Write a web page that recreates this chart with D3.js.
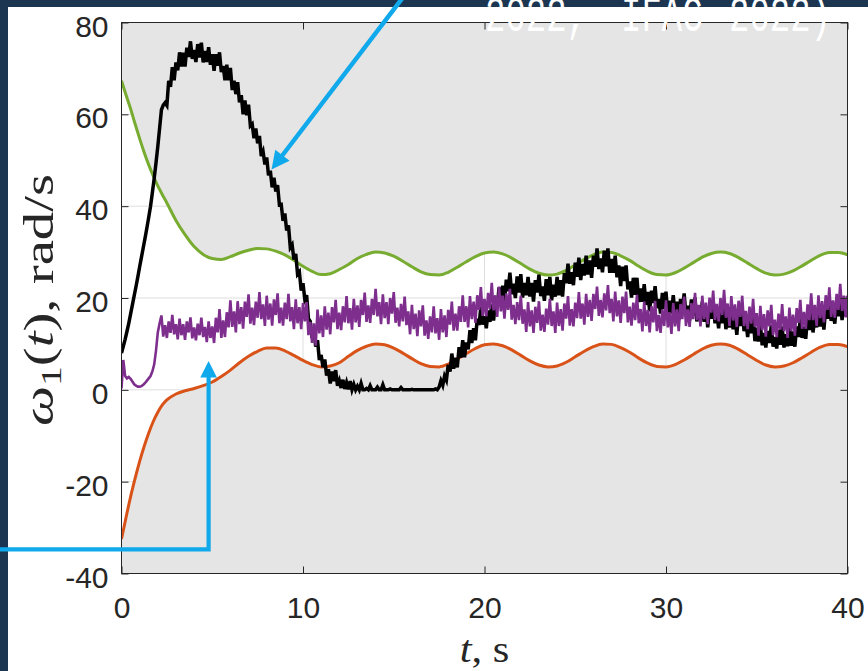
<!DOCTYPE html>
<html>
<head>
<meta charset="utf-8">
<script src="https://cdn.jsdelivr.net/npm/d3@7"></script>
<style>
  html, body { margin: 0; padding: 0; background: #1c3652; }
  svg { display: block; }
</style>
</head>
<body>
<svg id="chart" width="868" height="671"></svg>
<script>
// ---- data -------------------------------------------------------------
// time stamps of the bound curves (s)
const boundT = [0, 0.25, 0.5, 0.75, 1, 1.25, 1.5, 1.75, 2, 2.25, 2.5,
  3, 3.5, 4, 4.5, 5, 5.5, 6, 6.5, 7, 7.5, 8, 8.5, 9, 9.5, 10, 10.5, 11, 11.5, 12,
  12.5, 13, 13.5, 14, 14.5, 15, 15.5, 16, 16.5, 17, 17.5, 18, 18.5, 19, 19.5, 20,
  20.5, 21, 21.5, 22, 22.5, 23, 23.5, 24, 24.5, 25, 25.5, 26, 26.5, 27, 27.5, 28,
  28.5, 29, 29.5, 30, 30.5, 31, 31.5, 32, 32.5, 33, 33.5, 34, 34.5, 35, 35.5, 36,
  36.5, 37, 37.5, 38, 38.5, 39, 39.5, 40];

// upper bound (green)
const upperBound = [67.3, 64.2, 61.2, 57.9, 54.7, 51.7, 49.0, 46.6, 44.4, 42.5, 40.7,
  36.9, 33.8, 31.2, 29.5, 28.6, 28.4, 29.0, 29.8, 30.4, 30.8, 30.7, 30.2, 29.4, 28.2, 26.9, 25.8, 25.1, 25.3, 26.2,
  27.3, 28.6, 29.5, 30.0, 29.8, 29.1, 28.0, 26.8, 25.7, 25.1, 25.0, 25.6, 26.7, 27.9, 29.0, 29.8,
  30.0, 29.6, 28.7, 27.5, 26.3, 25.4, 25.0, 25.2, 26.0, 27.2, 28.4, 29.4, 30.0, 29.9, 29.2, 28.2,
  26.9, 25.8, 25.1, 25.0, 25.5, 26.5, 27.7, 28.9, 29.7, 30.0, 29.7, 28.8, 27.6, 26.4, 25.4, 25.0,
  25.2, 25.9, 27.0, 28.2, 29.3, 29.9, 29.9, 29.4];

// lower bound (orange)
const lowerBound = [-32.5, -27.8, -23.3, -19.3, -15.6, -12.3, -9.4, -6.9, -4.9, -3.3, -2.2,
  -0.9, -0.2, 0.3, 0.9, 1.7, 2.9, 4.3, 5.9, 7.3, 8.4, 9.1, 9.1, 8.5, 7.5, 6.4, 5.5, 5.0, 5.2, 5.9,
  7.3, 8.6, 9.5, 10.0, 9.8, 9.1, 8.0, 6.8, 5.7, 5.1, 5.0, 5.6, 6.7, 7.9, 9.0, 9.8,
  10.0, 9.6, 8.7, 7.5, 6.3, 5.4, 5.0, 5.2, 6.0, 7.2, 8.4, 9.4, 10.0, 9.9, 9.2, 8.2,
  6.9, 5.8, 5.1, 5.0, 5.5, 6.5, 7.7, 8.9, 9.7, 10.0, 9.7, 8.8, 7.6, 6.4, 5.4, 5.0,
  5.2, 5.9, 7.0, 8.2, 9.3, 9.9, 9.9, 9.4];

// sampled responses, one value every sampleStep seconds from t = 0
const sampleStep = 0.1;

const responseBlack = [
  8.0, 9.5, 11.0, 12.7, 14.5, 16.5, 18.5, 20.5, 22.5, 24.6, 26.8, 28.9, 31.0, 33.1, 35.3, 37.6, 40.0,
  42.9, 46.0, 49.4, 53.0, 57.0, 61.0, 62.0, 62.5,
  61.9, 67.3, 66.0, 70.3, 67.4, 71.3, 69.6, 73.5, 70.4, 73.4, 70.4, 74.5, 72.5, 75.9, 72.1, 74.0,
  71.4, 75.3, 72.4, 75.6, 71.3, 73.8, 71.4, 74.6, 70.8, 73.1, 69.5, 73.1, 70.6, 73.5, 69.2, 70.5,
  67.4, 70.8, 67.4, 70.1, 65.3, 67.3, 64.4, 67.0, 62.6, 64.2, 60.0, 63.0, 59.8, 62.1,
  57.5, 57.9, 54.8, 56.9, 53.7, 55.3, 50.9, 51.9, 49.1, 50.6, 46.7, 47.7, 44.1, 46.2, 43.2, 44.6,
  40.3, 40.4, 36.8, 38.4, 34.7, 35.8, 31.0, 31.6, 28.4, 29.6, 25.2, 25.7, 21.6, 23.2, 19.7, 20.6,
  15.5, 14.9, 11.3, 12.9, 9.4, 10.8, 6.5, 7.6, 4.9, 6.6, 3.1, 4.5, 1.4, 4.0, 1.9, 4.3, 0.9, 2.0,
  0.4, 2.2, 0.2, 1.6, 0.1, 1.9, 0.0, 1.2, 0.0, 0.8, 0.0, 1.4, 0.0, 0.0, 0.3, 0.0, 0.9, 0.0, 0.0, 0.0,
  0.6, 0.0, 0.0, 1.1, 0.0, 0.0, 0.0, 0.2, 0.0, 0.0, 0.0, 0.0, 0.0, 0.5, 0.0, 0.0, 0.0, 0.0, 0.0, 0.1,
  0.0, 0.0, 0.0, 0.0, 0.0, 0.0, 0.0, 0.0, 0.0, 0.0, 0.0, 0.0, 0.2, 0.0, 0.6,
  2.0, 1.0, 3.0, 2.1, 5.5, 4.0, 7.9, 4.6, 7.0, 4.9, 9.3, 7.0, 10.8, 7.1, 10.3, 8.8, 13.0, 10.2,
  13.4, 10.8, 15.5, 14.1, 18.1, 14.2, 16.0, 13.4, 17.3, 14.8, 18.6, 15.1, 18.8, 17.8, 22.3, 19.6, 22.7,
  19.1, 24.0, 21.5, 25.5, 20.8, 23.1, 20.0, 24.7, 21.2, 25.2,
  20.1, 23.3, 20.6, 24.6, 20.3, 23.3, 19.2, 23.9, 21.2, 25.1,
  20.4, 22.5, 19.4, 24.1, 20.6, 24.6, 19.5, 22.9, 20.3, 24.6,
  20.6, 23.9, 20.3, 25.4, 23.2, 27.5, 23.1, 25.6, 22.8, 27.7,
  24.6, 28.8, 23.9, 27.4, 24.9, 29.2, 25.1, 28.2, 24.4, 29.2,
  26.8, 30.8, 26.3, 28.6, 25.6, 30.3, 26.9, 30.8, 25.5, 28.5,
  25.5, 29.2, 24.5, 27.1, 22.6, 26.8, 23.7, 27.1, 21.9, 23.6,
  20.1, 24.4, 20.7, 24.4, 19.1, 22.1, 19.2, 23.0, 18.5, 21.3,
  17.1, 21.6, 18.9, 22.6, 17.8, 19.8, 16.6, 21.1, 17.6, 21.4,
  16.2, 19.4, 16.6, 20.6, 16.3, 19.2, 15.2, 19.8, 17.2, 21.0,
  16.2, 18.3, 15.1, 19.7, 16.2, 20.1, 14.9, 18.0, 15.2, 19.2,
  14.8, 17.7, 13.6, 18.2, 15.5, 19.3, 14.5, 16.6, 13.4, 18.0,
  14.5, 18.4, 13.2, 16.4, 13.6, 17.6, 13.2, 16.1, 12.0, 16.6,
  13.9, 17.6, 12.8, 14.8, 11.5, 16.0, 12.3, 16.0, 10.6, 13.5,
  10.5, 14.2, 9.7, 12.4, 9.2, 12.8, 10.2, 14.1, 9.4, 11.5,
  9.0, 13.1, 9.8, 13.8, 9.2, 12.1, 9.5, 13.7, 9.6, 12.7,
  9.4, 13.8, 11.5, 15.6, 11.3, 13.8, 11.1, 16.1, 13.0, 17.3,
  12.5, 16.0, 13.6, 17.9, 13.8, 16.9, 13.1, 17.9, 15.5, 19.5,
  15.0, 17.3, 14.4, 19.2, 16.0, 20.1, 15.2, 18.6, 16.1, 20.4];

const responsePurple = [
  0.3, 6.5, 3.0, 2.5, 2.8, 2.4, 1.8, 1.2, 0.9, 0.7, 0.7, 0.8, 1.1, 1.5, 2.0, 2.5, 3.0, 4.0, 5.5, 8.5,
  12.5, 14.5,
  16.2, 11.6, 14.1, 11.3, 14.9, 12.4, 16.3, 12.1, 14.3, 11.0, 15.5, 11.9, 14.3, 10.9, 14.9, 12.5,
  15.8, 11.2, 13.6, 10.8, 14.4, 11.9, 15.7, 11.5, 13.7, 10.4, 14.9, 11.3, 13.8,
  10.2, 15.7, 12.5, 17.6, 11.3, 15.1, 11.5, 16.9, 13.6, 19.5,
  13.7, 17.1, 12.5, 19.3, 14.3, 18.0, 13.3, 19.2, 15.9, 20.8,
  14.4, 17.9, 14.1, 19.2, 15.7, 21.3, 15.4, 18.6, 13.9, 20.5,
  15.3, 18.8, 14.0, 19.7, 16.3, 21.0, 14.5, 17.9, 14.0, 19.0,
  15.4, 20.9, 14.9, 18.0, 13.2, 19.7, 14.5, 18.0, 13.2, 18.9,
  14.9, 19.1, 11.9, 14.8, 10.2, 14.5, 9.6, 17.5, 12.3, 16.2,
  11.5, 18.2, 13.1, 16.8, 12.1, 18.0, 14.7, 19.6, 13.2, 16.8,
  13.0, 18.2, 14.7, 20.4, 14.5, 17.8, 13.1, 19.8, 14.7, 18.4,
  13.7, 19.6, 16.3, 21.2, 14.8, 18.4, 14.6, 19.8, 16.3, 22.0,
  16.0, 19.1, 14.3, 20.8, 15.6, 19.1, 14.3, 20.0, 16.6, 21.3,
  14.6, 17.9, 13.8, 18.7, 14.9, 20.3, 14.1, 17.1, 12.1, 18.5,
  13.2, 16.6, 11.7, 17.3, 13.8, 18.4, 11.8, 15.1, 11.1, 16.0,
  12.5, 18.2, 12.3, 15.6, 10.9, 17.6, 12.5, 16.2, 11.5, 17.4,
  14.2, 19.2, 12.9, 16.6, 12.9, 18.2, 14.8, 20.6, 14.8, 18.2,
  13.6, 20.4, 15.4, 19.2, 14.6, 20.6, 17.4, 22.4, 16.1, 19.8,
  16.0, 21.1, 17.6, 23.3, 17.3, 20.6, 15.9, 22.5, 17.1, 20.5,
  15.5, 21.0, 17.4, 22.0, 15.3, 18.5, 14.3, 19.1, 15.2, 20.5,
  14.4, 17.5, 12.6, 19.1, 13.8, 17.3, 12.4, 18.1, 14.6, 19.3,
  12.9, 16.4, 12.6, 17.7, 14.2, 19.8, 13.9, 17.1, 12.4, 19.0,
  13.9, 17.6, 12.9, 18.8, 15.5, 20.4, 14.0, 17.6, 13.8, 19.0,
  15.6, 21.3, 15.5, 18.8, 14.2, 20.9, 15.9, 19.6, 15.0, 20.9,
  17.6, 22.5, 16.1, 19.6, 15.8, 21.0, 17.3, 22.8, 16.7, 19.8,
  14.9, 21.4, 16.0, 19.5, 14.6, 20.3, 16.7, 21.4, 14.7, 18.1,
  14.0, 19.0, 15.2, 20.7, 14.5, 17.6, 12.7, 19.2, 13.9, 17.4,
  12.5, 18.2, 14.7, 19.4, 12.8, 16.3, 12.4, 17.5, 13.9, 19.5,
  13.6, 16.9, 12.2, 18.9, 13.8, 17.5, 12.8, 18.7, 15.4, 20.3,
  13.9, 17.5, 13.7, 18.9, 15.4, 21.1, 15.2, 18.5, 13.8, 20.5,
  15.4, 19.0, 14.3, 20.1, 16.8, 21.6, 15.2, 18.7, 14.9, 20.0,
  16.3, 21.8, 15.7, 18.8, 13.9, 20.4, 15.1, 18.6, 13.7, 19.4,
  15.9, 20.5, 13.9, 17.2, 13.2, 18.1, 14.4, 19.8, 13.7, 16.7,
  11.8, 18.3, 13.0, 16.5, 11.6, 17.3, 13.8, 18.5, 11.9, 15.3,
  11.5, 16.6, 13.1, 18.7, 12.8, 16.0, 11.3, 17.9, 12.8, 16.4,
  11.8, 17.8, 14.6, 19.6, 13.3, 17.0, 13.3, 18.6, 15.2, 21.0,
  15.2, 18.5, 13.9, 20.6, 15.6, 19.3, 14.7, 20.6, 17.4, 22.3,
  15.9, 19.5, 15.7, 20.9, 17.4, 23.1, 17.2, 20.5, 15.8, 20.5];

const xTicks = [0, 10, 20, 30, 40];
const yTicks = [-40, -20, 0, 20, 40, 60, 80];

// ---- drawing ----------------------------------------------------------
const svg = d3.select("#chart");
const W = 868, H = 671;

// figure panel
svg.append("rect").attr("x", 0).attr("y", 0).attr("width", W).attr("height", H).attr("fill", "#1c3652");
svg.append("rect").attr("x", 8).attr("y", 7).attr("width", W - 8).attr("height", H - 7).attr("fill", "#ffffff");

const x = d3.scaleLinear().domain([0, 40]).range([121.5, 847.5]);
const y = d3.scaleLinear().domain([-40, 80]).range([573.5, 22.5]);

const plot = svg.append("g");
svg.append("defs").append("clipPath").attr("id", "plotClip")
  .append("rect").attr("x", x(0)).attr("y", y(80))
  .attr("width", x(40) - x(0)).attr("height", y(-40) - y(80));

plot.append("rect").attr("x", x(0)).attr("y", y(80))
  .attr("width", x(40) - x(0)).attr("height", y(-40) - y(80)).attr("fill", "#ffffff");

// grid
const grid = plot.append("g").attr("stroke", "#dedede").attr("stroke-width", 1);
xTicks.slice(1, -1).forEach(v => grid.append("line")
  .attr("x1", x(v)).attr("x2", x(v)).attr("y1", y(80)).attr("y2", y(-40)));
yTicks.slice(1, -1).forEach(v => grid.append("line")
  .attr("x1", x(0)).attr("x2", x(40)).attr("y1", y(v)).attr("y2", y(v)));

const layer = plot.append("g").attr("clip-path", "url(#plotClip)");

// shaded regions outside the admissible band
const bandIdx = d3.range(boundT.length);
layer.append("path").datum(bandIdx)
  .attr("fill", "#e5e5e5")
  .attr("d", d3.area().curve(d3.curveMonotoneX)
    .x(i => x(boundT[i])).y0(y(80)).y1(i => y(upperBound[i])));
layer.append("path").datum(bandIdx)
  .attr("fill", "#e5e5e5")
  .attr("d", d3.area().curve(d3.curveMonotoneX)
    .x(i => x(boundT[i])).y0(y(-40)).y1(i => y(lowerBound[i])));

// bound curves
const boundLine = arr => d3.line().curve(d3.curveMonotoneX)
  .x(i => x(boundT[i])).y(i => y(arr[i]));
layer.append("path").datum(bandIdx).attr("fill", "none")
  .attr("stroke", "#77ac30").attr("stroke-width", 3).attr("d", boundLine(upperBound));
layer.append("path").datum(bandIdx).attr("fill", "none")
  .attr("stroke", "#d95319").attr("stroke-width", 3).attr("d", boundLine(lowerBound));

// responses
const sampled = d3.line().x((d, i) => x(i * sampleStep)).y(d => y(d));
layer.append("path").datum(responseBlack).attr("fill", "none")
  .attr("stroke", "#000000").attr("stroke-width", 3.5).attr("stroke-linejoin", "miter")
  .attr("d", sampled);
layer.append("path").datum(responsePurple).attr("fill", "none")
  .attr("stroke", "#7e2f8e").attr("stroke-width", 2.6).attr("stroke-linejoin", "miter")
  .attr("d", sampled);

// axes
const axisColor = "#262626";
const font = "'Liberation Sans', Arial, Helvetica, sans-serif";
const plain = d => String(d);

const gx = svg.append("g").attr("transform", `translate(0,${y(-40)})`)
  .call(d3.axisBottom(x).tickValues(xTicks).tickFormat(plain).tickSize(-7).tickSizeOuter(0).tickPadding(23));
const gxTop = svg.append("g").attr("transform", `translate(0,${y(80)})`)
  .call(d3.axisTop(x).tickValues(xTicks).tickSize(-7).tickSizeOuter(0).tickFormat(""));
const gy = svg.append("g").attr("transform", `translate(${x(0)},0)`)
  .call(d3.axisLeft(y).tickValues(yTicks).tickFormat(plain).tickSize(-7).tickSizeOuter(0).tickPadding(13));
const gyRight = svg.append("g").attr("transform", `translate(${x(40)},0)`)
  .call(d3.axisRight(y).tickValues(yTicks).tickSize(-7).tickSizeOuter(0).tickFormat(""));

[gx, gxTop, gy, gyRight].forEach(g => {
  g.select(".domain").remove();
  g.selectAll(".tick line").attr("stroke", axisColor).attr("stroke-width", 1);
  g.selectAll(".tick text").attr("fill", axisColor)
    .style("font-family", font).style("font-size", "30px");
});
gy.selectAll(".tick text").attr("dy", "0.45em");

svg.append("rect").attr("x", x(0)).attr("y", y(80))
  .attr("width", x(40) - x(0)).attr("height", y(-40) - y(80))
  .attr("fill", "none").attr("stroke", axisColor).attr("stroke-width", 1);

// axis labels
const serif = "'Liberation Serif', 'Times New Roman', serif";
const yl = svg.append("text")
  .attr("transform", `translate(53,${(y(80) + y(-40)) / 2 + 2}) rotate(-90) scale(1.32,1)`)
  .attr("text-anchor", "middle")
  .style("font-family", serif).style("font-size", "43px").attr("fill", "#262626");
yl.append("tspan").style("font-style", "italic").text("ω");
yl.append("tspan").attr("dy", 8).style("font-size", "30px").text("1");
yl.append("tspan").attr("dy", -8).text("(");
yl.append("tspan").style("font-style", "italic").text("t");
yl.append("tspan").text("), rad/s");

const xl = svg.append("text")
  .attr("transform", `translate(${(x(0) + x(40)) / 2},662) scale(1.15,1)`)
  .attr("text-anchor", "middle")
  .style("font-family", serif).style("font-size", "37px").attr("fill", "#262626");
xl.append("tspan").style("font-style", "italic").text("t");
xl.append("tspan").text(", s");

// callout arrows
const blue = "#10a9ec";
const ann = svg.append("g");
const tip1 = [271.5, 169.5], from1 = [404, -4];
ann.append("line").attr("x1", from1[0]).attr("y1", from1[1])
  .attr("x2", 280).attr("y2", 158.5)
  .attr("stroke", blue).attr("stroke-width", 4.5);
{
  const dx = tip1[0] - from1[0], dy = tip1[1] - from1[1];
  const len = Math.hypot(dx, dy), ux = dx / len, uy = dy / len;
  const bx = tip1[0] - ux * 18, by = tip1[1] - uy * 18;
  ann.append("polygon").attr("fill", blue).attr("points", [
    tip1, [bx - uy * 9, by + ux * 9], [bx + uy * 9, by - ux * 9]
  ].map(p => p.join(",")).join(" "));
}
ann.append("polyline").attr("fill", "none").attr("stroke", blue).attr("stroke-width", 4.2)
  .attr("points", "0,549.3 208.6,549.3 208.6,372");
ann.append("polygon").attr("fill", blue)
  .attr("points", "208.6,361 200.3,377.5 216.9,377.5");

// citation tail along the top edge
const cite = svg.append("g").attr("transform", "translate(0,31) scale(1,1.45)")
  .style("font-family", "'Liberation Mono', 'Courier New', monospace")
  .style("font-size", "34px").attr("fill", "#ffffff");
cite.append("text").attr("x", 485).attr("y", 0).text("2022,");
cite.append("text").attr("x", 621).attr("y", 0).text("IFAC");
cite.append("text").attr("x", 729).attr("y", 0).text("2022)");
</script>
</body>
</html>
